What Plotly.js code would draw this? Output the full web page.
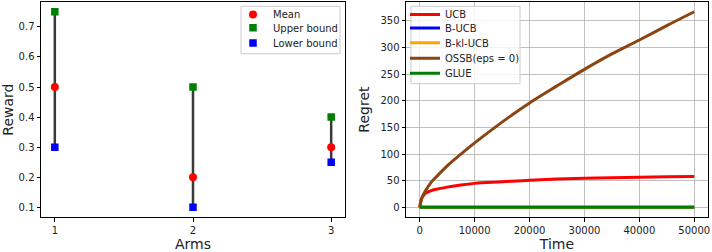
<!DOCTYPE html>
<html><head><meta charset="utf-8">
<script src="https://cdn.plot.ly/plotly-3.0.1.min.js"></script>
<style>html,body{margin:0;padding:0;background:#fff;}#c{width:712px;height:252px;}</style>
</head><body><div id="c"></div>
<script>
// Left panel data
const arms = [1, 2, 3];
const means = [0.5, 0.2, 0.3];
const upper = [0.75, 0.5, 0.4];
const lower = [0.3, 0.1, 0.25];
// Right panel data
const time = [0, 250, 500, 1000, 2000, 3000, 5000, 7500, 10000, 15000, 20000, 25000, 30000, 35000, 40000, 45000, 50000];
const ucb   = [0, 14, 20, 26, 31, 34, 38, 42, 45, 48, 51, 53, 54.5, 55.5, 56.5, 57.5, 58];
const bucb  = [0, 0, 0, 0, 0, 0, 0, 0, 0, 0, 0, 0, 0, 0, 0, 0, 0];
const bklucb= [0, 0, 0, 0, 0, 0, 0, 0, 0, 0, 0, 0, 0, 0, 0, 0, 0];
const ossb  = [0, 12, 20, 30, 46, 57, 78, 100, 121, 160, 196, 228, 259, 288, 314, 341, 367];
const glue  = [0, 0, 0, 0, 0, 0, 0, 0, 0, 0, 0, 0, 0, 0, 0, 0, 0];
const leftYTicks = [0.1, 0.2, 0.3, 0.4, 0.5, 0.6, 0.7];
const rightYTicks = [0, 50, 100, 150, 200, 250, 300, 350];
const rightXTicks = [0, 10000, 20000, 30000, 40000, 50000];

const F = 'DejaVu Sans, sans-serif';
const X = px => px / 712;
const P = py => (252 - py) / 251;

// vertical segments built from data
const segX = [], segY = [];
arms.forEach((a, i) => { segX.push(a, a, null); segY.push(lower[i], upper[i], null); });

const traces = [
  {x: segX, y: segY, mode: 'lines', line: {color: '#3a3a3a', width: 2.5}, showlegend: false, xaxis: 'x', yaxis: 'y', hoverinfo: 'skip'},
  {x: arms, y: means, mode: 'markers', name: 'Mean', marker: {color: 'red', symbol: 'circle', size: 8}, xaxis: 'x', yaxis: 'y', legend: 'legend'},
  {x: arms, y: upper, mode: 'markers', name: 'Upper bound', marker: {color: 'green', symbol: 'square', size: 7.5}, xaxis: 'x', yaxis: 'y', legend: 'legend2'},
  {x: arms, y: lower, mode: 'markers', name: 'Lower bound', marker: {color: 'blue', symbol: 'square', size: 7.5}, xaxis: 'x', yaxis: 'y', legend: 'legend3'},
  {x: time, y: ucb, mode: 'lines', name: 'UCB', line: {color: 'red', width: 3, shape: 'spline'}, xaxis: 'x2', yaxis: 'y2', legend: 'legend4'},
  {x: time, y: bucb, mode: 'lines', name: 'B-UCB', line: {color: 'blue', width: 3}, xaxis: 'x2', yaxis: 'y2', legend: 'legend5'},
  {x: time, y: bklucb, mode: 'lines', name: 'B-kl-UCB', line: {color: 'orange', width: 3}, xaxis: 'x2', yaxis: 'y2', legend: 'legend6'},
  {x: time, y: ossb, mode: 'lines', name: 'OSSB(eps = 0)', line: {color: '#8b4513', width: 3, shape: 'spline'}, xaxis: 'x2', yaxis: 'y2', legend: 'legend7'},
  {x: time, y: glue, mode: 'lines', name: 'GLUE', line: {color: 'green', width: 3}, xaxis: 'x2', yaxis: 'y2', legend: 'legend8'}
];

const axBase = {showline: true, mirror: true, linecolor: '#000', linewidth: 1, ticks: 'outside', ticklen: 3.5, tickcolor: '#000',
  tickfont: {family: F, size: 10, color: '#222'}, zeroline: false, automargin: false};
const yDom = [35/251, 1];
const leg = (px, py) => ({x: X(px), xanchor: 'left', y: P(py), yanchor: 'middle', bgcolor: 'rgba(0,0,0,0)', borderwidth: 0,
  font: {family: F, size: 10, color: '#222'}, itemwidth: 30});
const layout = {
  width: 712, height: 252, margin: {l: 0, r: 0, t: 1, b: 0},
  paper_bgcolor: '#fff', plot_bgcolor: '#fff', showlegend: true,
  font: {family: F, size: 10, color: '#222'},
  xaxis: Object.assign({}, axBase, {domain: [41/712, 345/712], range: [0.9, 3.1], tickvals: arms, showgrid: false,
    title: {text: 'Arms', font: {family: F, size: 14, color: '#222'}, standoff: 3}}),
  yaxis: Object.assign({}, axBase, {domain: yDom, range: [0.0675, 0.7825], tickvals: leftYTicks, tickformat: '.1f', showgrid: false,
    title: {text: 'Reward', font: {family: F, size: 14, color: '#222'}, standoff: 7}}),
  xaxis2: Object.assign({}, axBase, {domain: [406/712, 708/712], range: [-2500, 52500], tickvals: rightXTicks, tickformat: 'd',
    showgrid: true, gridcolor: '#b0b0b0', gridwidth: 0.8, anchor: 'y2',
    title: {text: 'Time', font: {family: F, size: 14, color: '#222'}, standoff: 3}}),
  yaxis2: Object.assign({}, axBase, {domain: yDom, range: [-18.35, 385.35], tickvals: rightYTicks, tickformat: 'd',
    showgrid: true, gridcolor: '#b0b0b0', gridwidth: 0.8, anchor: 'x2',
    title: {text: 'Regret', font: {family: F, size: 14, color: '#222'}, standoff: 7}}),
  legend: leg(233, 13.3), legend2: leg(233, 27.7), legend3: leg(233, 43),
  legend4: leg(405, 13.3), legend5: leg(405, 28), legend6: leg(405, 42.7), legend7: leg(405, 58.3), legend8: leg(405, 73.3),
  shapes: [
    {type: 'rect', xref: 'paper', yref: 'paper', x0: X(241), x1: X(340), y0: P(53), y1: P(5.3), layer: 'above',
      line: {color: '#cccccc', width: 1}, fillcolor: 'rgba(255,255,255,0.8)'},
    {type: 'rect', xref: 'paper', yref: 'paper', x0: X(411), x1: X(520), y0: P(83), y1: P(5.3), layer: 'above',
      line: {color: '#cccccc', width: 1}, fillcolor: 'rgba(255,255,255,0.8)'}
  ]
};
Plotly.newPlot('c', traces, layout, {staticPlot: true});
</script></body></html>
